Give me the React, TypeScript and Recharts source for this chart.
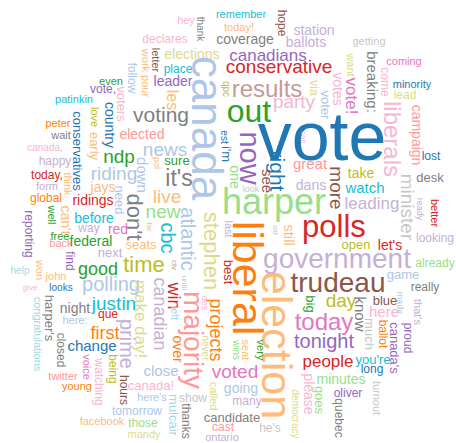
import React from 'react';
import { ScatterChart, Scatter, XAxis, YAxis } from 'recharts';

// category20 palette
const palette: Record<string, string> = {
  blue: '#1f77b4', lblue: '#aec7e8', orange: '#ff7f0e', lorange: '#ffbb78',
  green: '#2ca02c', lgreen: '#98df8a', red: '#d62728', pink: '#ff9896',
  purple: '#9467bd', lpurple: '#c5b0d5', brown: '#8c564b', lbrown: '#c49c94',
  magenta: '#e377c2', lmagenta: '#f7b6d2', gray: '#7f7f7f', lgray: '#c7c7c7',
  olive: '#bcbd22', lolive: '#dbdb8d', cyan: '#17becf', lcyan: '#9edae5',
};

// [word, x, y, frequency weight]
const horizontalWords: [string, number, number, number][] = [
  ['vote', 322, 136, 68], ['out', 249, 111, 32], ['results', 267, 89, 24],
  ['conservative', 279, 66, 19], ['canadians', 268, 55, 17], ['party', 294, 101, 19],
  ['coverage', 245, 39, 14], ['today!', 239, 27, 11], ['remember', 241, 14, 11],
  ['hey', 186, 20, 11], ['declares', 165, 39, 12], ['elections', 192, 54, 14],
  ['place', 178, 69, 12], ['leader', 173, 81, 14], ['ballots', 306, 42, 14],
  ['station', 314, 30, 14], ['getting', 369, 41, 11], ['coming', 404, 61, 11],
  ['minority', 412, 84, 11], ['lead', 405, 95, 12], ['even', 111, 81, 11],
  ['vote,', 103, 89, 12], ['patinkin', 74, 99, 11], ['peter', 58, 123, 11],
  ['wait', 61, 135, 11], ['canada,', 45, 147, 10], ['voting', 161, 115, 21],
  ['elected', 142, 134, 14], ['news', 165, 149, 19], ['sure', 177, 160, 13],
  ["it's", 179, 178, 23], ['live', 167, 196, 19], ['new', 163, 211, 19],
  ['ndp', 119, 156, 19], ['riding', 114, 173, 19], ['happy', 55, 161, 12],
  ['today,', 47, 175, 12], ['form', 47, 186, 11], ['global', 46, 198, 12],
  ['ridings', 93, 200, 14], ['jays', 103, 187, 14], ['before', 94, 218, 14],
  ['way', 89, 228, 12], ['red', 118, 229, 14], ['free', 60, 236, 11],
  ['back', 61, 243, 11], ['federal', 91, 241, 14], ['seats', 141, 244, 13],
  ['next', 110, 252, 13], ['good', 98, 269, 18], ['time', 144, 264, 22],
  ['help', 20, 270, 10], ['john', 56, 276, 11], ['give', 30, 287, 8],
  ['looks', 61, 287, 10], ['polling', 111, 284, 20], ['justin', 114, 303, 19],
  ['night', 75, 308, 14], ['que', 108, 314, 12], ['here:', 75, 320, 11],
  ['first', 105, 333, 18], ['change', 92, 346, 15], ['twitter', 63, 376, 11],
  ['young', 77, 386, 11], ['tomorrow', 137, 411, 12], ['facebook', 102, 421, 11],
  ['those', 143, 423, 12], ['mandy', 144, 434, 11], ['close', 161, 371, 15],
  ['canada!', 151, 385, 13], ["here's", 152, 397, 11], ['show', 193, 398, 12],
  ['voted', 235, 371, 19], ['going', 241, 388, 14], ['many', 247, 401, 12],
  ['candidate', 232, 417, 13], ['cast', 223, 427, 12], ['ontario', 222, 437, 11],
  ["he's", 270, 428, 12], ['today', 324, 322, 24], ['tonight', 324, 341, 20],
  ['people', 328, 361, 17], ['day', 341, 300, 19], ['blue', 385, 300, 13],
  ['here', 384, 312, 15], ["you're", 373, 359, 13], ['long', 372, 369, 12],
  ['minutes', 341, 379, 14], ['oliver', 348, 393, 12], ['polls', 334, 226, 31],
  ['government', 337, 258, 28], ['trudeau', 338, 282, 28], ['open', 356, 244, 13],
  ["let's", 390, 245, 14], ['take', 361, 173, 14], ['watch', 365, 188, 15],
  ['leading', 372, 203, 17], ['great', 310, 164, 15], ['dans', 311, 185, 14],
  ['lost', 431, 156, 12], ['desk', 430, 177, 13], ['looking', 435, 238, 12],
  ['already', 435, 263, 12], ['game', 403, 274, 13], ['really', 425, 287, 12],
  ['look', 251, 189, 9], ['harper', 274, 201, 36],
];

const verticalWords: [string, number, number, number][] = [
  ['canada', 207, 128, 44], ['liberal', 248, 278, 43], ['election', 277, 345, 43],
  ['majority', 194, 340, 28], ['projects', 216, 330, 18], ['stephen', 212, 251, 22],
  ['atlantic', 188, 239, 20], ['cbc', 168, 238, 20], ['now', 250, 158, 29],
  ['right', 277, 171, 21], ['see', 267, 181, 15], ['one', 235, 177, 14],
  ["i'm", 227, 154, 13], ['est', 224, 137, 10], ['call', 304, 137, 8],
  ['qpc', 226, 89, 10], ['les', 173, 100, 16], ['thank', 200, 29, 10],
  ['hope', 282, 23, 12], ['letter', 156, 60, 11], ['work pour', 146, 73, 11],
  ['follow', 132, 78, 12], ['voters', 122, 104, 13], ['country', 110, 125, 14],
  ['love', 95, 117, 11], ['early', 95, 146, 13], ['conservatives', 78, 151, 13],
  ['think', 68, 184, 11], ['well', 52, 215, 11], ["can't", 66, 220, 14],
  ['need', 120, 200, 13], ["don't", 135, 217, 22], ['down', 142, 175, 15],
  ['pol', 157, 163, 9], ['reporting', 29, 234, 12], ['far', 150, 227, 8],
  ['find', 70, 261, 12], ['won', 40, 270, 11], ['make day!', 141, 319, 17],
  ['canadian', 160, 314, 18], ['win', 174, 296, 18], ['until', 185, 283, 8],
  ['ctv', 175, 265, 8], ['des', 205, 303, 9], ['left', 174, 313, 10],
  ['over', 178, 349, 14], ['never', 205, 348, 10], ['wins', 236, 350, 10],
  ['seat', 246, 350, 11], ['very', 261, 350, 11], ['called', 214, 396, 11],
  ['mulcair', 174, 415, 13], ['thanks', 186, 421, 12], ['democracy', 295, 414, 10],
  ['big', 311, 304, 13], ['know', 360, 314, 15], ['much', 370, 334, 13],
  ['ballot', 383, 334, 12], ["canada's", 395, 348, 13], ['made', 400, 303, 9],
  ['proud', 408, 338, 12], ["that's", 418, 312, 11], ['please', 309, 394, 14],
  ['goes', 320, 400, 13], ['quebec', 339, 418, 12], ['turnout', 377, 398, 11],
  ["harper's", 50, 318, 13], ['congratulations', 38, 334, 11], ['closed', 61, 350, 12],
  ['prime', 127, 344, 20], ['voice', 87, 367, 11], ['watching', 99, 382, 12],
  ['being', 113, 369, 12], ['hours', 124, 390, 12], ['liberals', 392, 139, 24],
  ['campaign', 417, 135, 14], ['minister', 408, 207, 19], ['ready', 420, 209, 9],
  ['better', 435, 213, 11], ['more', 337, 188, 19], ['via', 314, 88, 12],
  ['voter', 326, 105, 13], ['votes', 338, 89, 14], ['want', 351, 65, 11],
  ['vote!', 352, 96, 17], ['breaking:', 372, 82, 15], ['come', 385, 82, 12],
  ['old', 275, 230, 7], ['still', 289, 235, 15], ['last', 229, 229, 11],
  ['best', 229, 272, 13],
];

const colorOf: Record<string, string> = {
  vote: 'blue', out: 'green', results: 'lbrown', conservative: 'red', canadians: 'purple',
  party: 'lmagenta', coverage: 'gray', 'today!': 'lorange', remember: 'cyan', hey: 'lmagenta',
  declares: 'lmagenta', elections: 'lolive', place: 'cyan', leader: 'purple', ballots: 'lpurple',
  station: 'lpurple', getting: 'lgray', coming: 'magenta', minority: 'blue', lead: 'lolive',
  even: 'green', 'vote,': 'purple', patinkin: 'cyan', peter: 'orange', wait: 'gray',
  'canada,': 'lmagenta', voting: 'gray', elected: 'pink', news: 'lblue', sure: 'green',
  "it's": 'gray', live: 'lorange', new: 'lgreen', ndp: 'green', riding: 'lblue',
  happy: 'lpurple', 'today,': 'red', form: 'lpurple', global: 'orange', ridings: 'red',
  jays: 'lorange', before: 'cyan', way: 'lpurple', red: 'magenta', free: 'green',
  back: 'pink', federal: 'green', seats: 'lorange', next: 'lpurple', good: 'green',
  time: 'olive', help: 'lcyan', john: 'lorange', give: 'lmagenta', looks: 'blue',
  polling: 'lblue', justin: 'cyan', night: 'gray', que: 'red', 'here:': 'lblue',
  first: 'orange', change: 'blue', twitter: 'pink', young: 'orange', tomorrow: 'lblue',
  facebook: 'lorange', those: 'lgreen', mandy: 'lolive', close: 'lblue', 'canada!': 'lmagenta',
  "here's": 'lblue', show: 'lgray', voted: 'magenta', going: 'lblue', many: 'lpurple',
  candidate: 'gray', cast: 'pink', ontario: 'lpurple', "he's": 'lgray', today: 'magenta',
  tonight: 'purple', people: 'red', day: 'olive', blue: 'brown', here: 'lmagenta',
  "you're": 'cyan', long: 'blue', minutes: 'lgreen', oliver: 'purple', polls: 'red',
  government: 'lpurple', trudeau: 'brown', open: 'olive', "let's": 'red', take: 'olive',
  watch: 'cyan', leading: 'lpurple', great: 'pink', dans: 'lpurple', lost: 'blue',
  desk: 'gray', looking: 'lpurple', already: 'lgreen', game: 'lblue', really: 'gray',
  look: 'lgray', harper: 'lgreen',
  canada: 'lblue', liberal: 'orange', election: 'lorange', majority: 'pink', projects: 'orange',
  stephen: 'lolive', atlantic: 'lblue', cbc: 'cyan', now: 'purple', right: 'blue',
  see: 'brown', one: 'lgreen', "i'm": 'blue', est: 'blue', call: 'lmagenta', qpc: 'olive',
  les: 'lorange', thank: 'gray', hope: 'brown', letter: 'brown', 'work pour': 'lorange',
  follow: 'lblue', voters: 'lmagenta', country: 'blue', love: 'olive', early: 'lorange',
  conservatives: 'blue', think: 'lorange', well: 'green', "can't": 'lorange', need: 'lblue',
  "don't": 'gray', down: 'lblue', pol: 'lorange', reporting: 'purple', far: 'lorange',
  find: 'purple', won: 'lorange', 'make day!': 'lolive', canadian: 'lpurple', win: 'red',
  until: 'lgray', ctv: 'lbrown', des: 'lmagenta', left: 'lcyan', over: 'orange',
  never: 'lolive', wins: 'lgreen', seat: 'lorange', very: 'green', called: 'lolive',
  mulcair: 'lcyan', thanks: 'gray', democracy: 'lolive', big: 'green', know: 'gray',
  much: 'lgray', ballot: 'orange', "canada's": 'purple', made: 'lblue', proud: 'purple',
  "that's": 'lpurple', please: 'lmagenta', goes: 'lgreen', quebec: 'gray', turnout: 'lgray',
  "harper's": 'gray', congratulations: 'lcyan', closed: 'gray', prime: 'lpurple', voice: 'magenta',
  watching: 'lmagenta', being: 'olive', hours: 'brown', liberals: 'lmagenta', campaign: 'pink',
  minister: 'lgray', ready: 'lpurple', better: 'red', more: 'brown', via: 'lolive',
  voter: 'lblue', votes: 'lmagenta', want: 'lolive', 'vote!': 'magenta', 'breaking:': 'gray',
  come: 'lmagenta', old: 'lgray', still: 'lorange', last: 'lpurple', best: 'red',
};

const toRows = (list: [string, number, number, number][]) =>
  list.map(([text, x, y, weight]) => ({ text, x, y, weight }));

const hRows = toRows(horizontalWords);
const vRows = toRows(verticalWords);

const makeShape = (rot: number) => (props: any) => {
  const { cx, cy, payload } = props;
  if (cx == null || cy == null) return <g />;
  return (
    <text
      x={cx}
      y={cy}
      dy="0.35em"
      textAnchor="middle"
      fontSize={payload.weight}
      fontFamily="'Liberation Sans', Arial, Helvetica, sans-serif"
      fill={palette[colorOf[payload.text]] || '#7f7f7f'}
      transform={rot ? `rotate(${rot} ${cx} ${cy})` : undefined}
    >
      {payload.text}
    </text>
  );
};

export default function App() {
  return (
    <div style={{ position: 'absolute', left: 0, top: 0, width: 456, height: 443, background: '#fff' }}>
      <ScatterChart width={456} height={443} margin={{ top: 0, right: 0, bottom: 0, left: 0 }}>
        <XAxis type="number" dataKey="x" domain={[0, 456]} hide />
        <YAxis type="number" dataKey="y" domain={[0, 443]} reversed hide />
        <Scatter data={hRows} shape={makeShape(0)} isAnimationActive={false} />
        <Scatter data={vRows} shape={makeShape(90)} isAnimationActive={false} />
      </ScatterChart>
    </div>
  );
}
